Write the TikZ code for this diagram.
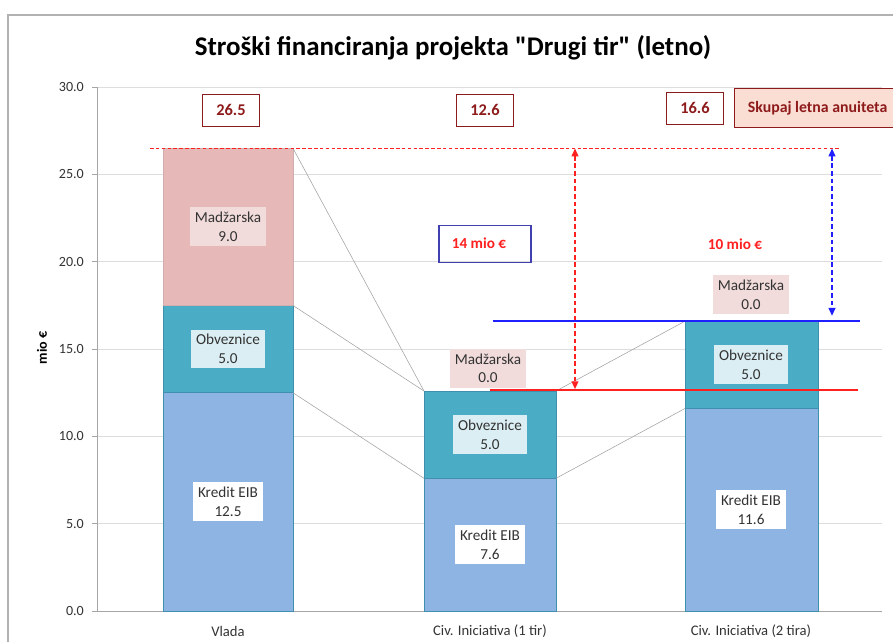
\documentclass[tikz,border=0pt]{standalone}
\usepackage{fontspec}
\setmainfont{Carlito}[Ligatures=TeXOff]
\usetikzlibrary{arrows.meta, positioning}
\definecolor{kreditmodra}{HTML}{8DB4E2}
\definecolor{obvezturk}{HTML}{4BACC6}
\definecolor{madzroza}{HTML}{E6B9B8}
\definecolor{obroba}{HTML}{3F8FAE}
\definecolor{temnordeca}{HTML}{8E1B1B}
\definecolor{mreza}{HTML}{DDDDDD}
\definecolor{bledoroza}{HTML}{F2DCDB}
\definecolor{bledomodra}{HTML}{DBEEF3}
\definecolor{breskev}{HTML}{FADDD3}
\definecolor{besedilo}{HTML}{333333}
\definecolor{ciljmodra}{HTML}{2020FF}
\definecolor{ciljrdeca}{HTML}{FF2020}
\definecolor{okvirmodra}{HTML}{4040B0}

\begin{document}
\begin{tikzpicture}[
    x=0.03cm, y=-0.03cm,
    stolpec/.style={draw=obroba, line width=0.6pt},
    oznaka/.style={align=center, font=\fontsize{13}{16}\selectfont, text=besedilo,
                   inner xsep=4pt, inner ysep=4pt},
    vrednost/.style={draw=temnordeca, fill=white, text=temnordeca, font=\fontsize{14}{16}\selectfont\bfseries,
                     minimum width=1.71cm, minimum height=0.96cm},
    povezava/.style={draw=gray!70, line width=0.5pt},
    ciljna/.style={line width=1.3pt},
    puscica/.style={{Triangle[length=2.4mm,width=2mm]}-{Triangle[length=2.4mm,width=2mm]},
                    line width=1.6pt, dash pattern=on 4pt off 2.5pt}
]
    \useasboundingbox (0,0) rectangle (893,642);
    \draw[gray!60, line width=1pt] (8,660) -- (8,15) -- (910,15);

    \node[font=\fontsize{23}{26}\selectfont\bfseries] (naslov) at (453,48) {Stroški financiranja projekta "Drugi tir" (letno)};
    \node[font=\fontsize{12}{14}\selectfont\bfseries, rotate=90] (enota) at (42,348) {mio €};

    % os in mreza (enote: mio €)
    \begin{scope}[shift={(0,611)}, yscale=-17.47]
        \foreach \v in {5,10,...,30}
            \draw[mreza, line width=0.6pt] (97,\v) -- (882,\v);
        \foreach \v in {0,5,...,30} {
            \draw[gray!70] (92,\v) -- (97,\v);
            \node[anchor=east, font=\fontsize{12}{14}\selectfont, text=besedilo] (os-\v) at (88,\v) {\v.0};
        }
        \draw[gray!70, line width=0.8pt] (97,30) -- (97,0) -- (882,0);

        % stolpci
        \draw[stolpec, fill=kreditmodra] (163,0) rectangle (293,12.5);
        \draw[stolpec, fill=obvezturk] (163,12.5) rectangle (293,17.5);
        \draw[stolpec, draw=madzroza!80!gray, fill=madzroza] (163,17.5) rectangle (293,26.5);
        \draw[stolpec, fill=kreditmodra] (424,0) rectangle (556,7.6);
        \draw[stolpec, fill=obvezturk] (424,7.6) rectangle (556,12.6);
        \draw[stolpec, fill=kreditmodra] (685,0) rectangle (818,11.6);
        \draw[stolpec, fill=obvezturk] (685,11.6) rectangle (818,16.6);

        \coordinate (vlada-mad) at (293,26.5);
        \coordinate (vlada-obv) at (293,17.5);
        \coordinate (vlada-kre) at (293,12.5);
        \coordinate (civ1-vrh-l) at (424,12.6);
        \coordinate (civ1-kre-l) at (424,7.6);
        \coordinate (civ1-vrh-d) at (556,12.6);
        \coordinate (civ1-kre-d) at (556,7.6);
        \coordinate (civ2-vrh) at (685,16.6);
        \coordinate (civ2-kre) at (685,11.6);

        \draw[povezava] (vlada-mad) -- (civ1-vrh-l);
        \draw[povezava] (vlada-obv) -- (civ1-vrh-l);
        \draw[povezava] (vlada-kre) -- (civ1-kre-l);
        \draw[povezava] (civ1-vrh-d) -- (civ2-vrh);
        \draw[povezava] (civ1-kre-d) -- (civ2-kre);

        % ciljne ravni
        \coordinate (modra-zac) at (493,16.6);
        \coordinate (modra-kon) at (860,16.6);
        \draw[ciljna, color=ciljmodra] (modra-zac) -- (modra-kon);
        \coordinate (rdeca-zac) at (490,12.66);
        \coordinate (rdeca-kon) at (858,12.66);
        \draw[ciljna, color=ciljrdeca] (rdeca-zac) -- (rdeca-kon);

        % oznake v stolpcih
        \node[oznaka, fill=white] (vlada-k) at (228,6.25) {Kredit EIB\\12.5};
        \node[oznaka, fill=bledomodra] (vlada-o) at (228,15) {Obveznice\\5.0};
        \node[oznaka, fill=bledoroza] (vlada-m) at (228,22) {Madžarska\\9.0};
        \node[oznaka, fill=white] (civ1-k) at (490,3.8) {Kredit EIB\\7.6};
        \node[oznaka, fill=bledomodra] (civ1-o) at (490,10.1) {Obveznice\\5.0};
        \node[oznaka, fill=bledoroza] (civ1-m) at (488,13.9) {Madžarska\\0.0};
        \node[oznaka, fill=white] (civ2-k) at (751,5.8) {Kredit EIB\\11.6};
        \node[oznaka, fill=bledomodra] (civ2-o) at (751,14.1) {Obveznice\\5.0};
        \node[oznaka, fill=bledoroza] (civ2-m) at (751,18.1) {Madžarska\\0.0};

        % razlike
        \coordinate (crta-zac) at (150,26.5);
        \coordinate (crta-kon) at (840,26.5);
        \draw[draw=ciljrdeca, line width=0.8pt, dash pattern=on 3pt off 2pt] (crta-zac) -- (crta-kon);

        \coordinate (r-zg) at (575,26.5);
        \coordinate (r-sp) at (575,12.7);
        \draw[puscica, ciljrdeca] (r-zg) -- (r-sp);
        \coordinate (m-zg) at (832,26.5);
        \coordinate (m-sp) at (832,16.9);
        \draw[puscica, ciljmodra] (m-zg) -- (m-sp);
    \end{scope}

    \node[draw=okvirmodra, line width=0.9pt, minimum width=2.76cm, minimum height=1.12cm] (razlika-14) at (485,244) {};
    \node[text=ciljrdeca, font=\fontsize{13}{15}\selectfont\bfseries] (besedilo-14) at (479,243) {14 mio €};
    \node[text=ciljrdeca, font=\fontsize{13}{15}\selectfont\bfseries] (razlika-10) at (735,244) {10 mio €};

    % skupne vrednosti
    \node[vrednost] (sk-vlada) at (231,110) {26.5};
    \node[vrednost] (sk-civ1) at (485,110) {12.6};
    \node[vrednost] (sk-civ2) at (695,108) {16.6};
    \node[draw=temnordeca, fill=breskev, text=temnordeca, font=\fontsize{13.5}{15}\selectfont\bfseries,
          anchor=west, minimum width=5.0cm, minimum height=1.18cm] (skupaj) at (734,108) {Skupaj letna anuiteta};

    \node[font=\fontsize{12.5}{15}\selectfont, text=besedilo] (x-vlada) at (228,631) {Vlada};
    \node[font=\fontsize{12.5}{15}\selectfont, text=besedilo] (x-civ1) at (490,631) {Civ. Iniciativa (1 tir)};
    \node[font=\fontsize{12.5}{15}\selectfont, text=besedilo] (x-civ2) at (751,631) {Civ. Iniciativa (2 tira)};
\end{tikzpicture}
\end{document}
